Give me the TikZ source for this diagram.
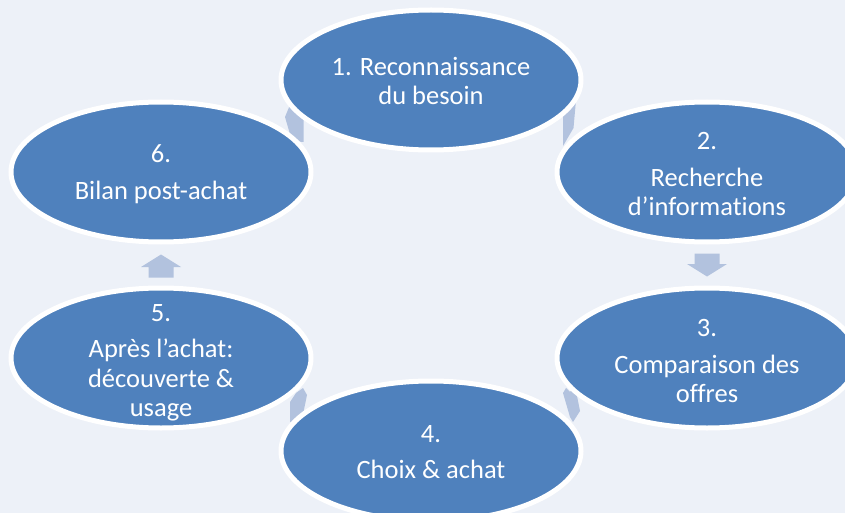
\documentclass[tikz,border=0pt]{standalone}
\usepackage{fontspec}
\setmainfont[Ligatures={NoCommon}]{Carlito}
\usetikzlibrary{shapes.geometric}
\definecolor{bgc}{HTML}{EDF1F8}
\definecolor{blobc}{HTML}{4F81BD}
\definecolor{arrc}{HTML}{B2C2DE}
\tikzset{
  blob/.style={ellipse, fill=blobc, draw=white, line width=5pt,
    minimum width=300pt, minimum height=140pt, inner sep=0pt},
  txt/.style={text=white, align=center, inner sep=0pt,
    font=\fontsize{26.5}{29.5}\selectfont},
  arrowfill/.style={fill=arrc},
  blockarrow/.pic={
    \fill[arrc] (-11.5,-12.5) -- (-1,-12.5) -- (-1,-20) -- (11.5,0)
      -- (-1,20) -- (-1,12.5) -- (-11.5,12.5) -- cycle;
  }
}
\begin{document}
\begin{tikzpicture}[x=1pt,y=-1pt]
  \fill[bgc] (0,0) rectangle (845,513);
  \useasboundingbox (0,0) rectangle (845,513);
  % straight block arrows in the gaps
  \coordinate (a23) at (707,265);
  \coordinate (a56) at (161,266);
  \pic[rotate=-90] at (a23) {blockarrow};
  \pic[rotate=90] at (a56) {blockarrow};
  % partly hidden block arrows between neighbouring ellipses
  \fill[arrowfill] (563,100) -- (576,100) -- (573.5,128) -- (563,146) -- cycle;
  \fill[arrowfill] (292,100) -- (285,117) -- (292,141) -- (303.5,142) -- (303.5,100) -- cycle;
  \fill[arrowfill] (563,393) -- (566,388) -- (570,392) -- (575,386) -- (580,411) -- (573,422) -- (570,417) -- cycle;
  \fill[arrowfill] (303,388) -- (307,395) -- (303.5,412) -- (293,422) -- (290,422) -- (290,402) -- (296,393) -- cycle;
  % ellipses
  \node[blob] (e1) at (431,80) {};
  \node[blob] (e2) at (707,172) {};
  \node[blob] (e3) at (707,358) {};
  \node[blob] (e4) at (431,451) {};
  \node[blob] (e5) at (161,358) {};
  \node[blob] (e6) at (161,172) {};
  % texts
  \node[txt] (t1) at ([yshift=-1pt]e1) {1. Reconnaissance\\du besoin};
  \node[txt] (t2) at ([yshift=-2pt]e2) {2.\\[7pt]Recherche\\d’informations};
  \node[txt] (t3) at ([yshift=-3pt]e3) {3.\\[7pt]Comparaison des\\offres};
  \node[txt] (t4) at ([yshift=-1pt]e4) {4.\\[7pt]Choix \& achat};
  \node[txt] (t5) at ([yshift=-5pt]e5) {5.\\[7pt]Après l’achat:\\découverte \&\\usage};
  \node[txt] (t6) at ([yshift=-2pt]e6) {6.\\[7pt]Bilan post-achat};
\end{tikzpicture}
\end{document}
